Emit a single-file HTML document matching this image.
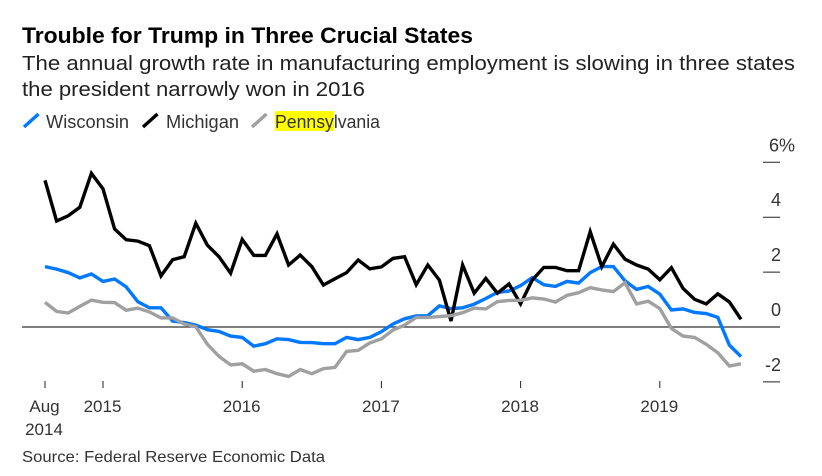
<!DOCTYPE html>
<html>
<head>
<meta charset="utf-8">
<style>
html,body{margin:0;padding:0;background:#fff;}
svg{display:block;font-family:"Liberation Sans",sans-serif;}
</style>
</head>
<body>
<svg id="chart" width="822" height="476" viewBox="0 0 822 476" xmlns="http://www.w3.org/2000/svg">
<rect width="822" height="476" fill="#fff"/>
<text x="22" y="43" font-size="22" font-weight="700" fill="#000" textLength="451" lengthAdjust="spacingAndGlyphs">Trouble for Trump in Three Crucial States</text>
<text x="22" y="70" font-size="20.5" fill="#222" textLength="773" lengthAdjust="spacingAndGlyphs">The annual growth rate in manufacturing employment is slowing in three states</text>
<text x="22" y="96" font-size="20.5" fill="#222" textLength="343" lengthAdjust="spacingAndGlyphs">the president narrowly won in 2016</text>
<line x1="24" y1="127" x2="38.5" y2="114" stroke="#0078ff" stroke-width="3.4"/>
<text x="46" y="128" font-size="18" fill="#333" textLength="83" lengthAdjust="spacingAndGlyphs">Wisconsin</text>
<line x1="143" y1="127" x2="157.5" y2="114" stroke="#000" stroke-width="3.4"/>
<text x="166" y="128" font-size="18" fill="#333" textLength="73" lengthAdjust="spacingAndGlyphs">Michigan</text>
<line x1="252" y1="127" x2="266.5" y2="114" stroke="#a0a0a0" stroke-width="3.4"/>
<rect x="275" y="111" width="59" height="20" fill="#ffff00"/>
<text x="275" y="128" font-size="18" fill="#333" textLength="105" lengthAdjust="spacingAndGlyphs">Pennsylvania</text>
<line x1="22" y1="327" x2="780" y2="327" stroke="#333" stroke-width="1.2"/>
<g id="axes"></g>
<g id="series"></g>
<text x="22" y="462" font-size="16" fill="#333" textLength="303" lengthAdjust="spacingAndGlyphs">Source: Federal Reserve Economic Data</text>
</svg>
<script>
const wisconsin = [2.2,2.11,1.98,1.79,1.93,1.66,1.75,1.46,0.92,0.7,0.7,0.22,0.16,0.07,-0.1,-0.16,-0.33,-0.38,-0.7,-0.61,-0.43,-0.46,-0.56,-0.57,-0.61,-0.61,-0.38,-0.46,-0.38,-0.17,0.11,0.3,0.4,0.41,0.77,0.67,0.7,0.83,1.04,1.26,1.31,1.51,1.8,1.54,1.48,1.66,1.6,1.98,2.2,2.2,1.68,1.37,1.48,1.2,0.62,0.66,0.53,0.49,0.35,-0.66,-1.08];
const michigan = [5.34,3.86,4.05,4.36,5.6,5.03,3.57,3.18,3.13,2.96,1.86,2.45,2.56,3.78,2.98,2.56,1.96,3.19,2.61,2.61,3.39,2.26,2.62,2.2,1.53,1.76,1.98,2.44,2.12,2.19,2.5,2.56,1.54,2.26,1.71,0.22,2.26,1.23,1.77,1.23,1.57,0.84,1.71,2.17,2.17,2.05,2.05,3.47,2.2,3.02,2.47,2.26,2.11,1.72,2.16,1.41,1.01,0.84,1.21,0.91,0.28];
const pennsylvania = [0.9,0.57,0.51,0.75,0.98,0.9,0.89,0.61,0.69,0.55,0.33,0.33,0.11,0.01,-0.63,-1.07,-1.38,-1.34,-1.61,-1.55,-1.7,-1.8,-1.55,-1.7,-1.52,-1.47,-0.89,-0.85,-0.58,-0.43,-0.11,0.07,0.35,0.35,0.38,0.41,0.52,0.69,0.66,0.92,0.97,0.97,1.06,1.02,0.91,1.15,1.25,1.43,1.35,1.29,1.61,0.84,0.94,0.67,-0.05,-0.33,-0.38,-0.63,-0.94,-1.42,-1.34];
const yTickValues = [6,4,2,0,-2];
const yTickLabels = ["6%","4","2","0","-2"];
const xTickMonths = [0,5,17,29,41,53];
const xTickLabels = ["Aug","2015","2016","2017","2018","2019"];

const NS = "http://www.w3.org/2000/svg";
function xScale(m){ return 45 + 11.6 * m; }
function yScale(v){ return 327 - 27.45 * v; }
const axes = document.getElementById("axes");
const series = document.getElementById("series");
function make(tag, attrs, parent){
  const el = document.createElementNS(NS, tag);
  for (const k in attrs) el.setAttribute(k, attrs[k]);
  parent.appendChild(el);
  return el;
}
yTickValues.forEach(function(v, i){
  const y = yScale(v);
  const label = make("text", {y: y - 11, "font-size": 18, fill: "#333"}, axes);
  
  
  label.textContent = yTickLabels[i];
  if (v === 6) { label.setAttribute("x", 769); }
  else { label.setAttribute("x", 781); label.setAttribute("text-anchor", "end"); }
  if (v !== 0) {
    const tick = make("line", {x1: 763, x2: 780, y1: y, y2: y, stroke: "#222", "stroke-width": 1}, axes);
    
    
  }
});
xTickMonths.forEach(function(m, i){
  const x = xScale(m);
  const tick = make("line", {x1: x, x2: x, y1: 381, y2: 388, stroke: "#222", "stroke-width": 1}, axes);
  
  
  const label = make("text", {x: x - 0.5, y: 412, "font-size": 17, fill: "#333", "text-anchor": "middle"}, axes);
  
  
  label.textContent = xTickLabels[i];
});
const yearLabel = make("text", {x: xScale(0) - 1, y: 435, "font-size": 17, fill: "#333", "text-anchor": "middle"}, axes);


yearLabel.textContent = "2014";

function linePath(values){
  return values.map(function(v, i){
    return (i ? "L" : "M") + xScale(i).toFixed(1) + " " + yScale(v).toFixed(1);
  }).join(" ");
}
const lineWisconsin = make("path", {d: linePath(wisconsin), fill: "none", stroke: "#0078ff", "stroke-width": 3.4}, series);


const lineMichigan = make("path", {d: linePath(michigan), fill: "none", stroke: "#000", "stroke-width": 3.4}, series);


const linePennsylvania = make("path", {d: linePath(pennsylvania), fill: "none", stroke: "#a0a0a0", "stroke-width": 3.4}, series);


</script>
</body>
</html>
